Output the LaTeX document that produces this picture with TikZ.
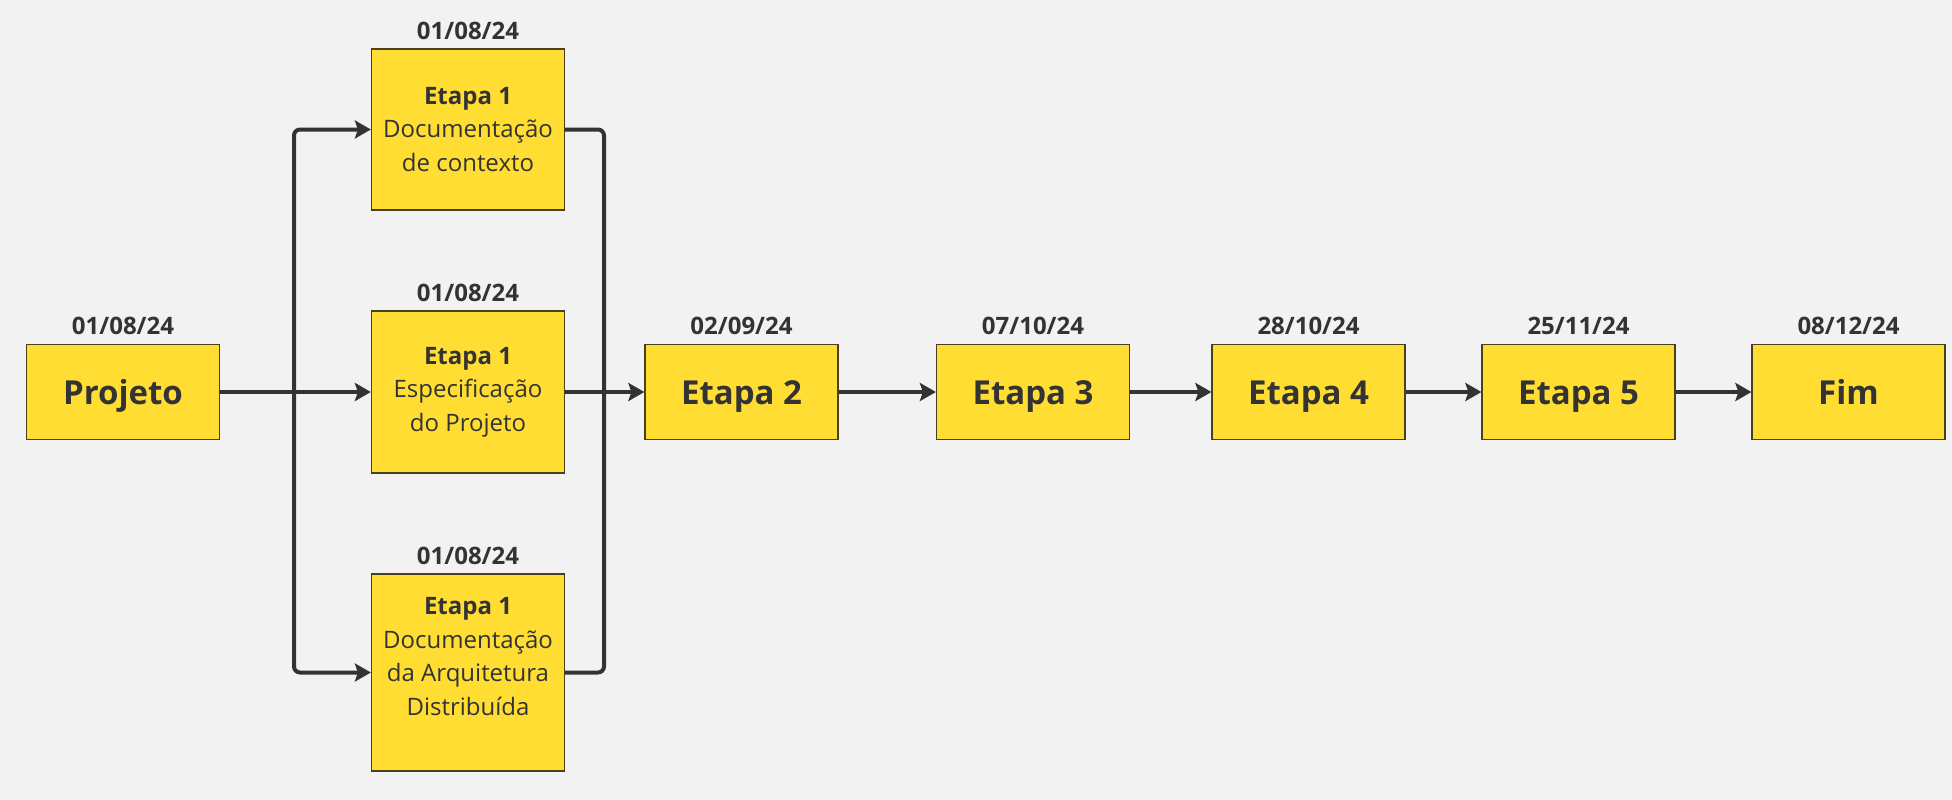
\documentclass[tikz,border=0pt]{standalone}
\usepackage{fontspec}
\setmainfont{Open Sans}
\usetikzlibrary{arrows.meta}
\definecolor{bg}{HTML}{F2F2F2}
\definecolor{boxfill}{HTML}{FFDD33}
\definecolor{boxline}{HTML}{4A4020}
\definecolor{ink}{HTML}{333333}
\begin{document}
\begin{tikzpicture}[x=1pt,y=-1pt,
  box/.style={draw=boxline, line width=1.2pt, fill=boxfill, minimum width=193pt, inner sep=0pt, text=ink, align=center},
  small/.style={box, minimum height=95pt, text height=24pt, text depth=0pt, font=\fontsize{33}{38}\selectfont\bfseries},
  tall/.style={box, font=\fontsize{24}{33.6}\selectfont},
  plaintext/.style={inner sep=0pt, text=ink, align=center, font=\fontsize{24}{33.6}\selectfont},
  date/.style={anchor=base, text=ink, font=\fontsize{24}{28}\selectfont\bfseries, inner sep=0pt},
  conn/.style={draw=ink, line width=4pt, rounded corners=6pt},
  arr/.style={conn, -{Stealth[length=16pt,width=18pt,inset=3pt]}}]
\fill[bg] (0,0) rectangle (1952,800);
\useasboundingbox (0,0) rectangle (1952,800);

\node[small] (proj) at (123,392) {Projeto};
\node[tall, minimum height=161pt] (b1) at (468,129.5) {\textbf{Etapa 1}\\Documentação\\de contexto};
\node[tall, minimum height=162pt] (b2) at (468,392) {\textbf{Etapa 1}\\Especificação\\do Projeto};
\node[box, minimum height=197pt] (b3) at (468,672.5) {};
\node[plaintext] (b3t) at ([yshift=16pt]b3.center) {\textbf{Etapa 1}\\Documentação\\da Arquitetura\\Distribuída};
\node[small] (e2) at (741.5,392) {Etapa 2};
\node[small] (e3) at (1033,392) {Etapa 3};
\node[small] (e4) at (1308.5,392) {Etapa 4};
\node[small] (e5) at (1578.5,392) {Etapa 5};
\node[small] (fim) at (1848.5,392) {Fim};

\node[date] (d0) at ([yshift=9pt]proj.north) {01/08/24};
\node[date] (d1) at ([yshift=9pt]b1.north) {01/08/24};
\node[date] (d2) at ([yshift=9pt]b2.north) {01/08/24};
\node[date] (d3) at ([yshift=9pt]b3.north) {01/08/24};
\node[date] (d4) at ([yshift=9pt]e2.north) {02/09/24};
\node[date] (d5) at ([yshift=9pt]e3.north) {07/10/24};
\node[date] (d6) at ([yshift=9pt]e4.north) {28/10/24};
\node[date] (d7) at ([yshift=9pt]e5.north) {25/11/24};
\node[date] (d8) at ([yshift=9pt]fim.north) {08/12/24};

\coordinate (jl) at (294,392);
\coordinate (jr) at (604,392);

\draw[arr] (jl) |- (b1.west);
\draw[arr] (jl) |- (b3.west);
\draw[arr] (proj.east) -- (b2.west);
\draw[conn] (b1.east) -| (jr);
\draw[conn] (b3.east) -| (jr);
\draw[arr] (b2.east) -- (e2.west);
\draw[arr] (e2.east) -- (e3.west);
\draw[arr] (e3.east) -- (e4.west);
\draw[arr] (e4.east) -- (e5.west);
\draw[arr] (e5.east) -- (fim.west);
\end{tikzpicture}
\end{document}
